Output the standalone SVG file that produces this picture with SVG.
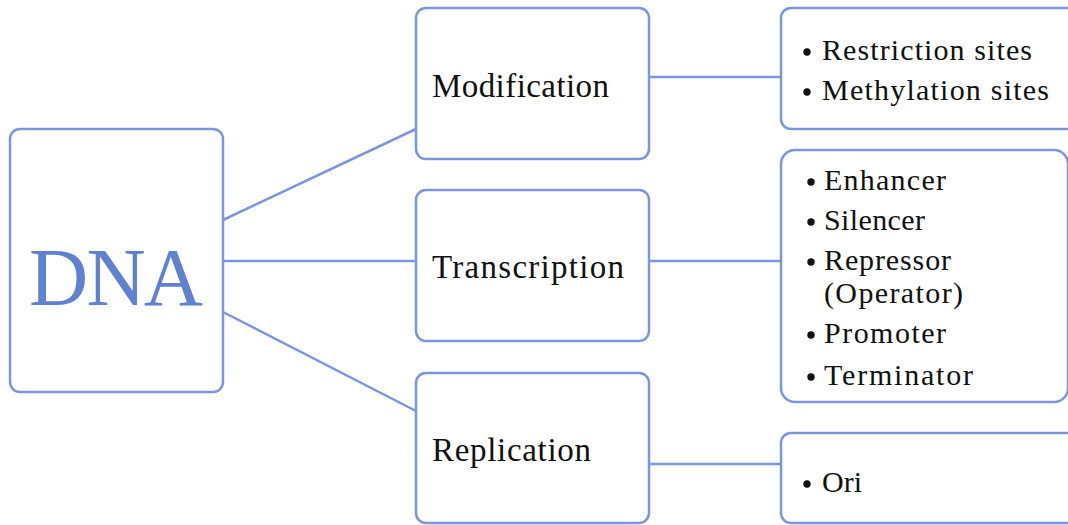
<svg xmlns="http://www.w3.org/2000/svg" width="1068" height="525" viewBox="0 0 1068 525">
  <style>
    .box { fill: #ffffff; stroke: #7B96DC; stroke-width: 2.5; }
    .link { stroke: #7B96DC; stroke-width: 2.5; fill: none; }
    .lbl { font-family: "Liberation Serif", "DejaVu Serif", serif; font-size: 33px; fill: #111111; }
    .item { font-family: "Liberation Serif", "DejaVu Serif", serif; font-size: 30px; fill: #111111; }
    .dot { fill: #111111; }
    .big { font-family: "Liberation Serif", "DejaVu Serif", serif; font-size: 82px; fill: #6080D0; }
  </style>
  <rect width="1068" height="525" fill="#ffffff"/>

  <!-- connectors -->
  <g id="connectors">
    <line class="link" x1="223" y1="220" x2="416" y2="129"/>
    <line class="link" x1="223" y1="261" x2="416" y2="261"/>
    <line class="link" x1="223" y1="312" x2="416" y2="411"/>
    <line class="link" x1="649" y1="77" x2="781" y2="77"/>
    <line class="link" x1="649" y1="261" x2="781" y2="261"/>
    <line class="link" x1="649" y1="464" x2="781" y2="464"/>
  </g>

  <g id="dna">
    <rect class="box" x="10" y="129" width="213" height="263" rx="10"/>
    <text class="big" x="29" y="305" textLength="174">DNA</text>
  </g>

  <g id="modification">
    <rect class="box" x="416" y="8" width="233" height="151" rx="10"/>
    <text class="lbl" x="432" y="97" textLength="177">Modification</text>
  </g>

  <g id="transcription">
    <rect class="box" x="416" y="190" width="233" height="151" rx="10"/>
    <text class="lbl" x="432" y="278" textLength="192">Transcription</text>
  </g>

  <g id="replication">
    <rect class="box" x="416" y="373" width="233" height="150" rx="10"/>
    <text class="lbl" x="432" y="461" textLength="159">Replication</text>
  </g>

  <g id="modification-sites">
    <rect class="box" x="781" y="8" width="300" height="121" rx="10"/>
    <circle class="dot" cx="807" cy="52" r="3.7"/>
    <text class="item" x="822" y="60" textLength="210">Restriction sites</text>
    <circle class="dot" cx="807" cy="92" r="3.7"/>
    <text class="item" x="822" y="100" textLength="227">Methylation sites</text>
  </g>

  <g id="regulatory-elements">
    <rect class="box" x="781" y="150" width="287" height="252" rx="14"/>
    <circle class="dot" cx="811" cy="182" r="3.7"/>
    <text class="item" x="824" y="190" textLength="122">Enhancer</text>
    <circle class="dot" cx="811" cy="222" r="3.7"/>
    <text class="item" x="824" y="230" textLength="101">Silencer</text>
    <circle class="dot" cx="811" cy="262" r="3.7"/>
    <text class="item" x="824" y="270" textLength="127">Repressor</text>
    <text class="item" x="824" y="303" textLength="139">(Operator)</text>
    <circle class="dot" cx="811" cy="335" r="3.7"/>
    <text class="item" x="824" y="343" textLength="122">Promoter</text>
    <circle class="dot" cx="811" cy="377" r="3.7"/>
    <text class="item" x="824" y="385" textLength="149">Terminator</text>
  </g>

  <g id="origin">
    <rect class="box" x="781" y="433" width="300" height="90" rx="10"/>
    <circle class="dot" cx="807" cy="484" r="3.7"/>
    <text class="item" x="822" y="492" textLength="40">Ori</text>
  </g>
</svg>
